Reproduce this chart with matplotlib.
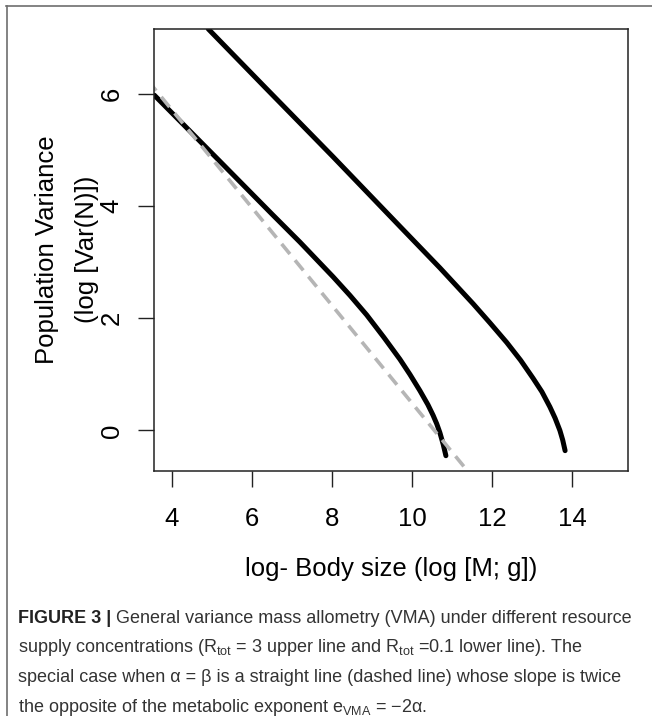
import matplotlib
matplotlib.use('Agg')
import matplotlib.pyplot as plt
from matplotlib import font_manager
from matplotlib.lines import Line2D

# Data
upper_x = [4.91, 6.37, 8.03, 9.70, 10.70, 11.53, 11.95, 12.37, 12.72, 13.03, 13.25,
           13.45, 13.58, 13.70, 13.77, 13.83]
upper_y = [7.16, 6.09, 4.88, 3.64, 2.90, 2.26, 1.92, 1.57, 1.25, 0.93, 0.69,
           0.42, 0.22, 0.00, -0.17, -0.36]
lower_x = [3.56, 5.20, 6.50, 7.20, 8.03, 8.45, 8.87, 9.30, 9.70, 9.95, 10.20,
           10.40, 10.53, 10.62, 10.70, 10.78, 10.85]
lower_y = [5.98, 4.80, 3.86, 3.36, 2.74, 2.41, 2.06, 1.66, 1.27, 1.00, 0.71,
           0.46, 0.27, 0.12, -0.04, -0.24, -0.45]
dash_x = [3.40, 11.32]
dash_y = [6.24, -0.66]
xticks = [4, 6, 8, 10, 12, 14]
yticks = [0, 2, 4, 6]

caption_bold = 'FIGURE 3 |'
caption_lines = [
    ' General variance mass allometry (VMA) under different resource',
    'supply concentrations (R$_{\\mathregular{tot}}$ = 3 upper line and R$_{\\mathregular{tot}}$ =0.1 lower line). The',
    'special case when \u03b1 = \u03b2 is a straight line (dashed line) whose slope is twice',
    'the opposite of the metabolic exponent e$_{\\mathregular{VMA}}$ = \u22122\u03b1.',
]

plt.rcParams['font.family'] = ['Liberation Sans', 'DejaVu Sans']
plt.rcParams['lines.scale_dashes'] = False

names = {f.name for f in font_manager.fontManager.ttflist}
cap_family = 'Liberation Sans Narrow' if 'Liberation Sans Narrow' in names else 'Liberation Sans'
cap_size = 15.8 if cap_family == 'Liberation Sans Narrow' else 13.0

W, H = 652, 716
fig = plt.figure(figsize=(W / 100, H / 100), dpi=100)

def fx(px):
    return px / W

def fy(py):
    return 1 - py / H

# plot box
ax = fig.add_axes([fx(154.3), fy(470.5), fx(628.3) - fx(154.3), fy(29) - fy(470.5)])
ax.set_xlim(3.56, 15.41)
ax.set_ylim(-0.714, 7.16)

ax.plot(upper_x, upper_y, color='black', lw=3.6, solid_capstyle='round',
        solid_joinstyle='round')
ax.plot(lower_x, lower_y, color='black', lw=3.6, solid_capstyle='round',
        solid_joinstyle='round')
ax.plot(dash_x, dash_y, color='#b5b5b5', lw=2.6, dashes=(9.4, 5.8))

for s in ax.spines.values():
    s.set_linewidth(1.1)
    s.set_color('#222222')
ax.set_xticks(xticks)
ax.set_yticks(yticks)
ax.tick_params(length=11.5, width=1.0, color='#222222', labelsize=18.5)
ax.tick_params(axis='x', pad=15)
ax.tick_params(axis='y', pad=10.5)
plt.setp(ax.get_yticklabels(), rotation=90, va='center')

# axis labels
fig.text(fx(391.3), fy(576), 'log- Body size (log [M; g])', fontsize=18.5,
         ha='center', va='baseline')
fig.text(fx(46.7), fy(249.5), 'Population Variance', fontsize=18.5,
         rotation=90, ha='center', va='center')
fig.text(fx(87), fy(249.5), '(log [Var(N)])', fontsize=18.5,
         rotation=90, ha='center', va='center')

# frame around the figure panel
fig.add_artist(Line2D([fx(6), 1], [fy(6), fy(6)], color='#6e6e6e', lw=1.2))
fig.add_artist(Line2D([fx(6.5), fx(6.5)], [fy(6), 0], color='#6e6e6e', lw=1.2))

# caption
cap_x = 18
base0 = 623
step = 29.5
tb = fig.text(fx(cap_x), fy(base0), caption_bold, fontsize=cap_size, family=cap_family,
              weight='bold', color='#222222', va='baseline')
fig.canvas.draw()
bb = tb.get_window_extent()
fig.text(bb.x1 / W, fy(base0), caption_lines[0], fontsize=cap_size, family=cap_family,
         color='#333333', va='baseline')
for i, line in enumerate(caption_lines[1:], start=1):
    fig.text(fx(cap_x), fy(base0 + i * step), line, fontsize=cap_size, family=cap_family,
             color='#333333', va='baseline')

fig.savefig('out.png', dpi=100)
